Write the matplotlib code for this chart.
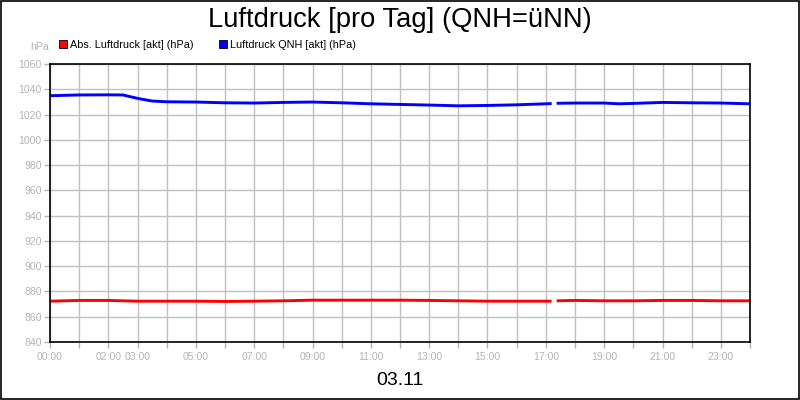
#!/usr/bin/env python3
"""
Luftdruck pro Tag (03.11): absolute pressure and QNH over one day
"""

import numpy as np
import matplotlib
matplotlib.use('Agg')
import matplotlib.pyplot as plt
from matplotlib.lines import Line2D

plt.rcParams['font.family'] = ['Liberation Sans', 'DejaVu Sans']

# hours of the day; NaN entry marks the missing data around 17:15
hours = [0, 1, 2, 2.5, 3, 3.5, 4, 5, 6, 7, 8, 9, 10, 11, 12, 13, 14, 15, 16,
         17, 17.2, 17.28, 17.37, 18, 19, 19.5, 20, 21, 22, 23, 24]

qnh = [1034.9, 1035.5, 1035.6, 1035.5, 1032.8, 1030.7, 1030.1, 1029.9, 1029.3,
       1029.1, 1029.6, 1029.9, 1029.3, 1028.5, 1028.0, 1027.5, 1026.9, 1027.2,
       1027.7, 1028.5, 1028.7, np.nan, 1028.9, 1029.1, 1029.1, 1028.5, 1028.8,
       1029.6, 1029.3, 1029.1, 1028.5]

abs_p = [872.3, 872.9, 872.9, 872.6, 872.3, 872.3, 872.3, 872.3, 872.1, 872.3,
         872.6, 873.1, 873.1, 873.1, 873.1, 872.9, 872.6, 872.3, 872.3, 872.3,
         872.3, np.nan, 872.6, 872.9, 872.6, 872.6, 872.6, 872.9, 872.9, 872.6,
         872.6]

label_hours = [0, 2, 3, 5, 7, 9, 11, 13, 15, 17, 19, 21, 23]
tick_labels = ['%02d:00' % h for h in label_hours]
y_ticks = list(range(840, 1061, 20))

gray = '#b4b4b4'
grid_col = '#c0c0c0'

fig = plt.figure(figsize=(8, 4), dpi=100)
fig.patch.set_facecolor('white')
fig.patches.append(plt.Rectangle((0.0007, 0.0013), 0.998, 0.997, transform=fig.transFigure,
                                 fill=False, edgecolor='black', linewidth=1.2))

ax = fig.add_axes([0.0625, 0.145, 0.875, 0.695])

ax.plot(hours, abs_p, color='#ff0000', linewidth=2.1, solid_capstyle='butt')
ax.plot(hours, qnh, color='#0000ff', linewidth=2.1, solid_capstyle='butt')

ax.set_xlim(0, 24)
ax.set_ylim(840, 1060)

ax.set_xticks(label_hours)
ax.set_xticklabels(tick_labels)
ax.set_xticks(range(0, 25), minor=True)
ax.set_yticks(y_ticks)

ax.tick_params(axis='both', which='both', colors=gray, labelsize=7.6,
               direction='out', length=4, width=1)
ax.tick_params(axis='x', which='both', pad=3)
ax.tick_params(axis='y', pad=2)

ax.grid(True, which='both', color=grid_col, linewidth=1)
ax.set_axisbelow(True)
for s in ax.spines.values():
    s.set_color('black')
    s.set_linewidth(1.2)

# title, unit label and date
fig.text(0.5, 0.951, 'Luftdruck [pro Tag] (QNH=üNN)', ha='center', va='center',
         fontsize=19.7, color='black')
fig.text(0.049, 0.882, 'hPa', ha='center', va='center', fontsize=7.6, color=gray)
fig.text(0.5, 0.048, '03.11', ha='center', va='center', fontsize=14, color='black')

handles = [
    Line2D([], [], linestyle='none', marker='s', markersize=6,
           markerfacecolor='#ff0000', markeredgecolor='black', markeredgewidth=0.6),
    Line2D([], [], linestyle='none', marker='s', markersize=6,
           markerfacecolor='#0000ff', markeredgecolor='black', markeredgewidth=0.6),
]
fig.legend(handles, ['Abs. Luftdruck [akt] (hPa)', 'Luftdruck QNH [akt] (hPa)'],
           loc='center left', bbox_to_anchor=(0.073, 0.888), ncol=2, frameon=False,
           fontsize=7.8, handlelength=0.8, handletextpad=0.25, columnspacing=2.3,
           borderaxespad=0, borderpad=0)

plt.savefig('out.png', dpi=100)
